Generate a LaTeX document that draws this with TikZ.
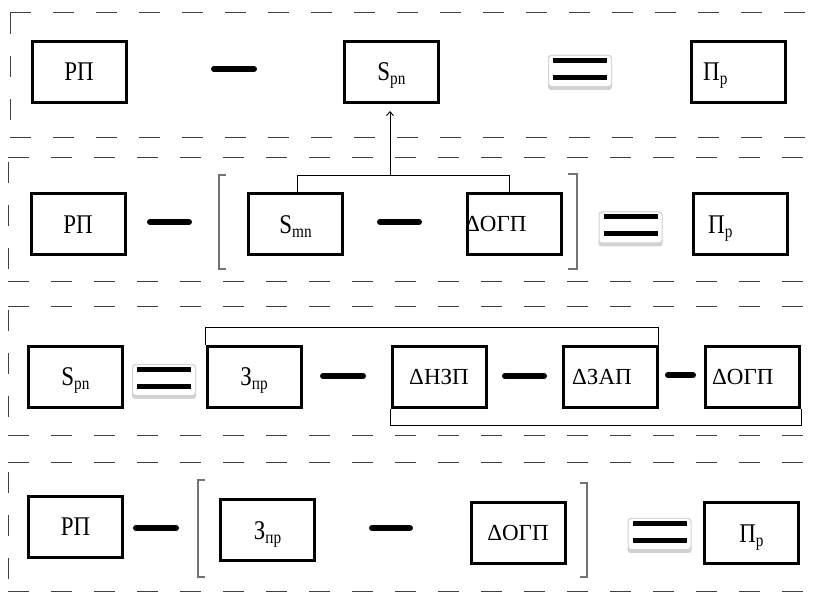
\documentclass[tikz,border=0pt]{standalone}
\usepackage{fontspec}
\setmainfont{Liberation Serif}
\newfontfamily\narrowserif{Liberation Serif}[FakeStretch=0.85]
\usetikzlibrary{arrows.meta}

% text sizes
\newcommand\bigtxt{\fontsize{27}{27}\narrowserif}
\newcommand\deltxt{\fontsize{23}{23}\selectfont}
\newcommand\lowidx[1]{\raisebox{-4pt}{\fontsize{18}{18}\selectfont #1}}

% double-bar "equals" sign on a bevelled plate; #1,#2 = centre
\newcommand\eqmark[2]{%
  \fill[gray!35, rounded corners=3pt] (#1-32,#2-14) rectangle (#1+32,#2+21);
  \fill[white, rounded corners=3pt] (#1-31,#2-13) rectangle (#1+31,#2+17);
  \fill (#1-27,#2-11) rectangle (#1+27,#2-6);
  \fill (#1-27,#2+6) rectangle (#1+27,#2+11);
}

\tikzset{
  blk/.style={draw, line width=3pt, minimum width=94pt, minimum height=61pt, inner sep=0pt},
  bigtext/.style={font=\bigtxt, text height=18pt, text depth=0pt},
  deltext/.style={font=\deltxt, text height=15pt, text depth=0pt},
  conn/.style={line width=0.9pt},
  minussign/.style={line width=6pt, line cap=round},
  panelframe/.style={line width=1pt, black!75, dash pattern=on 21pt off 22pt},
  brk/.style={line width=1.2pt, black!55},
}

\begin{document}
\begin{tikzpicture}[x=1pt, y=-1pt]
\useasboundingbox (0,0) rectangle (815,593);
\clip (0,0) rectangle (815,593);

% ---------- dashed panel frames ----------
\draw[panelframe] (10,13) -- (830,13);
\draw[panelframe] (10,13) -- (10,138);
\draw[panelframe] (10,138) -- (830,138);

\draw[panelframe] (8,158) -- (830,158);
\draw[panelframe] (8,162) -- (8,282);
\draw[panelframe] (8,282) -- (830,282);

\draw[panelframe] (8,307) -- (830,307);
\draw[panelframe] (8,310) -- (8,436);
\draw[panelframe] (8,436) -- (830,436);

\draw[panelframe] (8,463) -- (830,463);
\draw[panelframe] (8,472) -- (8,591);
\draw[panelframe] (8,591.5) -- (830,591.5);

% ---------- row 1 ----------
\node[blk, bigtext] (rp1) at (79,72) {РП};
\node[blk, bigtext] (s1) at (391.5,72) {S\lowidx{pn}};
\node[blk] (pr1) at (738.5,72) {};
\node[bigtext, anchor=west, inner sep=0pt] (pr1t) at (703,72) {П\lowidx{р}};
\draw[minussign] (214,69) -- (254,69);
\eqmark{580}{69}

% ---------- row 2 ----------
\node[blk, bigtext] (rp2) at (78,224.5) {РП};
\node[blk, bigtext] (smn) at (295.5,224.5) {S\lowidx{mn}};
\node[blk] (dogp2) at (514,224.5) {};
\node[deltext, anchor=west, inner sep=0pt] (dogp2t) at (465,224.5) {ΔОГП};
\node[blk] (pr2) at (740,224.5) {};
\node[bigtext, anchor=west, inner sep=0pt] (pr2t) at (708,224.5) {П\lowidx{р}};
\draw[minussign] (150,222) -- (189,222);
\draw[minussign] (380,222) -- (419,222);
\eqmark{630.5}{225.5}
\draw[brk] (226,175) -- (219,175) -- (219,269) -- (226,269);
\draw[brk] (568,174) -- (577,174) -- (577,269) -- (568,269);

% link from the bracketed pair up to the box above
\coordinate (busL) at (297,175);
\coordinate (busR) at (509,175);
\coordinate (busM) at (390,175);
\draw[conn] (smn.north -| busL) -- (busL) -- (busR) -- (dogp2.north -| busR);
\draw[conn, -{Straight Barb[length=4pt, width=7pt]}, shorten >=7pt] (busM) -- (s1.south -| busM);

% ---------- row 3 ----------
\node[blk, bigtext] (s3) at (75.5,377) {S\lowidx{pn}};
\node[blk, bigtext] (zpr3) at (254,377) {З\lowidx{пр}};
\node[blk, deltext] (dnzp) at (439,377) {ΔНЗП};
\node[blk] (dzap) at (610,377) {};
\node[deltext, anchor=west, inner sep=0pt] (dzapt) at (572,377) {ΔЗАП};
\node[blk] (dogp3) at (752.5,377) {};
\node[deltext, anchor=west, inner sep=0pt] (dogp3t) at (712,377) {ΔОГП};
\eqmark{164}{378}
\draw[minussign] (323,376) -- (363,376);
\draw[minussign] (505,376) -- (544,376);
\draw[minussign] (668,375) -- (693,375);
\draw[conn] (zpr3.north west) -- ++(0,-18) -| (dzap.north east);
\draw[conn] (dnzp.south west) -- ++(0,16) -| (dogp3.south east);

% ---------- row 4 ----------
\node[blk, bigtext] (rp4) at (75.5,527) {РП};
\node[blk, bigtext] (zpr4) at (267.5,530.5) {З\lowidx{пр}};
\node[blk, deltext] (dogp4) at (518,533.5) {ΔОГП};
\node[blk, bigtext] (pr4) at (751.5,533.5) {П\lowidx{р}};
\draw[minussign] (136,528) -- (176,528);
\draw[minussign] (372,528) -- (410,528);
\eqmark{659.5}{532}
\draw[brk] (205,480) -- (198,480) -- (198,577) -- (205,577);
\draw[brk] (580,483) -- (587,483) -- (587,577) -- (580,577);
\end{tikzpicture}
\end{document}
